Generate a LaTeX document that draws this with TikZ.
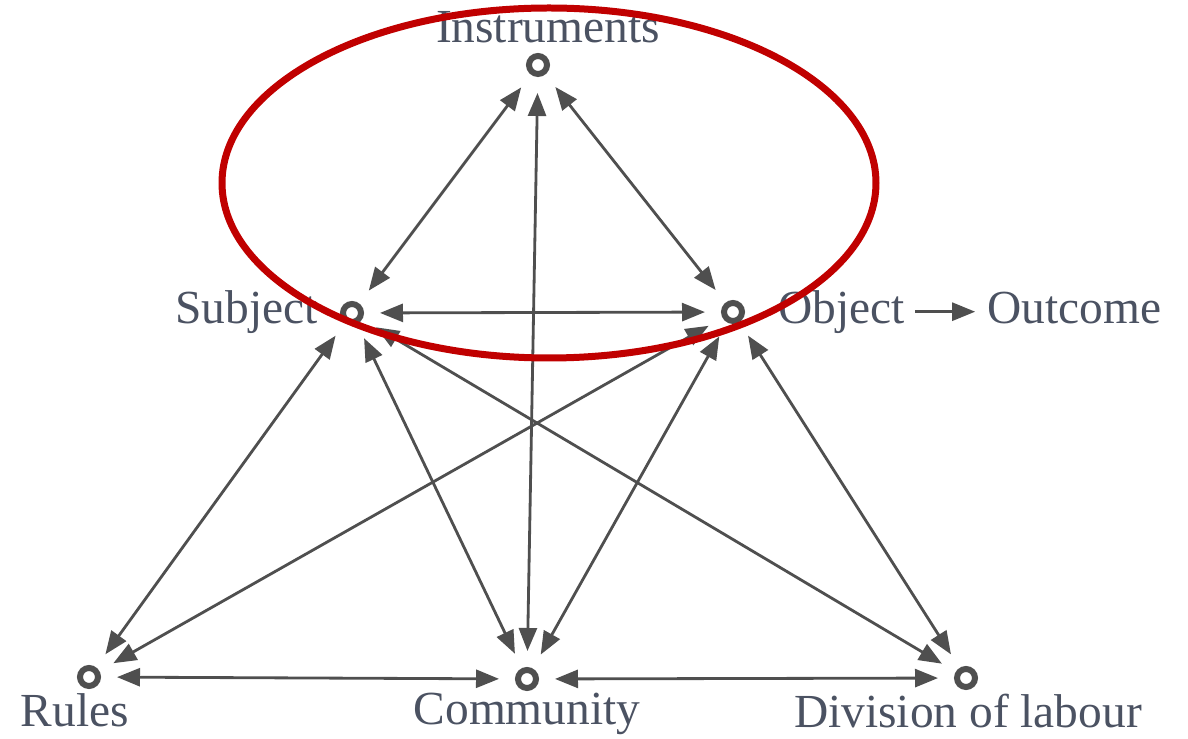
\documentclass[tikz,border=0pt]{standalone}
\usepackage{fontspec}
\setmainfont{Liberation Serif}
\usetikzlibrary{positioning, arrows.meta, calc}
\definecolor{actGray}{HTML}{4F4F4F}
\definecolor{actText}{HTML}{4B5262}
\definecolor{actRed}{HTML}{C00000}

\begin{document}
\begin{tikzpicture}[
    x=0.02cm, y=-0.02cm,
    point/.style={
        draw=actGray, circle, line width=0.12cm,
        minimum size=0.36cm, inner sep=0pt
    },
    lbl/.style={
        text=actText, font=\fontsize{27}{31}\selectfont,
        inner sep=0pt, text height=19pt, text depth=5pt
    },
    link/.style={{Triangle[length=0.46cm, width=0.36cm]}-{Triangle[length=0.46cm, width=0.36cm]},
        line width=1.6pt, draw=actGray, shorten <=0.32cm, shorten >=0.32cm},
    outarrow/.style={-{Triangle[length=0.46cm, width=0.36cm]}, line width=1.6pt, draw=actGray},
    focusring/.style={draw=actRed, line width=0.14cm}
]
\useasboundingbox (0,0) rectangle (1188,739);

% Points of the activity system
\node[point] (inst) at (538,65) {};
\node[point] (subj) at (352,313) {};
\node[point] (obj) at (733,312) {};
\node[point] (rules) at (89,677) {};
\node[point] (comm) at (527,679) {};
\node[point] (div) at (966,678) {};

% Labels
\node[lbl, anchor=base] (instlbl) at ($(inst)+(10,-22)$) {Instruments};
\node[lbl, anchor=base east] (subjlbl) at ($(subj)+(-34,11)$) {Subject};
\node[lbl, anchor=base west] (objlbl) at ($(obj)+(45,12)$) {Object};
\node[lbl, anchor=base west] (outlbl) at ($(objlbl.base east)+(82,0)$) {Outcome};
\node[lbl, anchor=base] (ruleslbl) at ($(rules)+(-14,50)$) {Rules};
\node[lbl, anchor=base] (commlbl) at ($(comm)+(0,46)$) {Community};
\node[lbl, anchor=base] (divlbl) at ($(div)+(2,50)$) {Division of labour};

% Top triangle
\draw[link] (inst) -- (subj);
\draw[link] (inst) -- (obj);
\draw[link] (inst) -- (comm);
\draw[link] (subj) -- (obj);

% From subject and object down to the base
\draw[link] (subj) -- (rules);
\draw[link] (subj) -- (comm);
\draw[link] (subj) -- (div);
\draw[link] (obj) -- (rules);
\draw[link] (obj) -- (comm);
\draw[link] (obj) -- (div);

% Base line
\draw[link] (rules) -- (comm);
\draw[link] (comm) -- (div);

% Object -> Outcome
\draw[outarrow, shorten <=0.2cm, shorten >=0.24cm] (objlbl) -- (outlbl);

% Highlight ring
\draw[focusring] (549,183) ellipse [x radius=327, y radius=175];

\end{tikzpicture}
\end{document}
